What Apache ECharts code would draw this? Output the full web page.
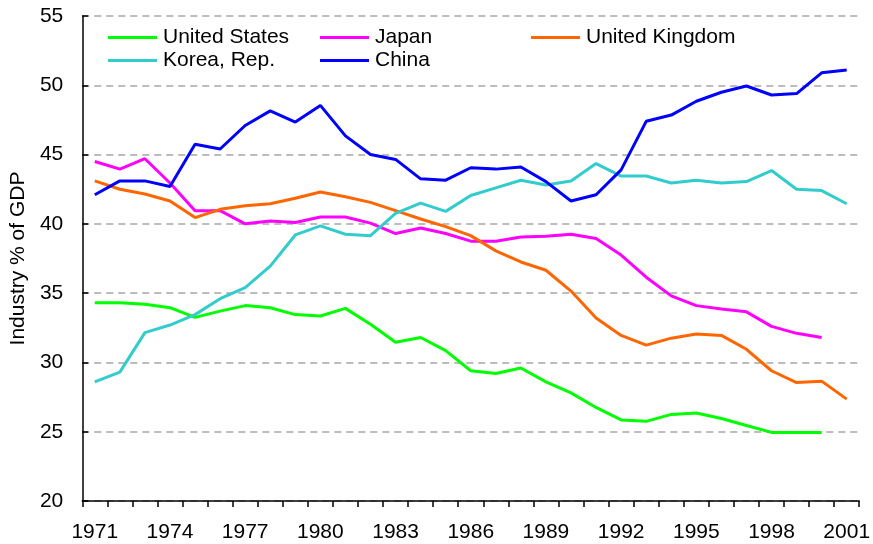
<!DOCTYPE html>
<html>
<head>
<meta charset="utf-8">
<script src="https://cdn.jsdelivr.net/npm/echarts@6/dist/echarts.min.js"></script>
<style>
  html, body { margin: 0; padding: 0; background: #fff; }
  #chart { width: 873px; height: 544px; }
</style>
</head>
<body>
<div id="chart"></div>
<script>
// years on the category axis
var years = [];
for (var y = 1971; y <= 2001; y++) years.push(String(y));

// industry share of GDP (%)
var usData = [34.3, 34.3, 34.2, 33.95, 33.25, 33.7, 34.1, 33.95, 33.45, 33.35, 33.9, 32.75, 31.45,
  31.8, 30.85, 29.4, 29.2, 29.6, 28.6, 27.8, 26.75, 25.85, 25.75, 26.25, 26.35, 25.95, 25.45,
  24.95, 24.95, 24.95, null];
var japanData = [44.5, 43.95, 44.7, 42.95, 40.95, 40.95, 40.0, 40.2, 40.1, 40.5, 40.5, 40.05, 39.3,
  39.7, 39.3, 38.75, 38.75, 39.05, 39.1, 39.25, 38.95, 37.75, 36.15, 34.8, 34.1, 33.85, 33.65,
  32.6, 32.1, 31.8, null];
var ukData = [43.1, 42.5, 42.15, 41.65, 40.45, 41.05, 41.3, 41.45, 41.85, 42.3, 41.95, 41.55, 40.95,
  40.35, 39.8, 39.15, 38.05, 37.25, 36.65, 35.15, 33.2, 31.95, 31.25, 31.75, 32.05, 31.95, 30.95,
  29.4, 28.55, 28.65, 27.35];
var koreaData = [28.6, 29.3, 32.15, 32.7, 33.45, 34.6, 35.4, 36.95, 39.2, 39.85, 39.25, 39.15, 40.75,
  41.5, 40.9, 42.05, 42.6, 43.15, 42.8, 43.1, 44.35, 43.45, 43.45, 42.95, 43.15, 42.95, 43.05,
  43.85, 42.5, 42.4, 41.45];
var chinaData = [42.1, 43.1, 43.1, 42.7, 45.75, 45.4, 47.1, 48.15, 47.35, 48.55, 46.35, 45.0, 44.65,
  43.25, 43.15, 44.05, 43.95, 44.1, 43.05, 41.65, 42.1, 43.9, 47.4, 47.85, 48.85, 49.5, 49.95,
  49.3, 49.4, 50.9, 51.1];

var names = ['United States', 'Japan', 'United Kingdom', 'Korea, Rep.', 'China'];
var colors = ['#00ff00', '#ff00ff', '#ff6600', '#33cccc', '#0000ff'];
var datasets = [usData, japanData, ukData, koreaData, chinaData];

var font = 'Liberation Sans, Arial, sans-serif';

var chart = echarts.init(document.getElementById('chart'));

var series = names.map(function(name, i) {
  return {
    name: name,
    type: 'line',
    data: datasets[i],
    showSymbol: false,
    symbol: 'none',
    animation: false,
    lineStyle: { width: 3, color: colors[i] },
    itemStyle: { color: colors[i] }
  };
});

function legendBox(data, left) {
  return {
    data: data,
    orient: 'vertical',
    left: left,
    top: 27,
    padding: 0,
    icon: 'rect',
    itemWidth: 49,
    itemHeight: 3,
    itemGap: 2,
    textStyle: { fontFamily: font, fontSize: 21, color: '#000', padding: [0, 0, 0, 1] }
  };
}

var option = {
  backgroundColor: '#fff',
  color: colors,
  legend: [
    legendBox(['United States', 'Korea, Rep.'], 108),
    legendBox(['Japan', 'China'], 320),
    legendBox(['United Kingdom'], 531)
  ],
  grid: { left: 82, right: 10, top: 16, bottom: 43 },
  xAxis: {
    type: 'category',
    data: years,
    boundaryGap: true,
    axisLine: { lineStyle: { color: '#000', width: 1.5 } },
    axisTick: { show: true, interval: 0, length: 6, lineStyle: { color: '#000', width: 1.5 } },
    axisLabel: { interval: 2, margin: 21, fontFamily: font, fontSize: 21, color: '#000' },
    splitLine: { show: false }
  },
  yAxis: {
    type: 'value',
    min: 20,
    max: 55,
    interval: 5,
    name: 'Industry % of GDP',
    nameLocation: 'middle',
    nameGap: 48,
    nameTextStyle: { fontFamily: font, fontSize: 21, color: '#000' },
    axisLine: { show: true, lineStyle: { color: '#000', width: 1.5 } },
    axisTick: { show: true, inside: true, length: 6, lineStyle: { color: '#000', width: 1.5 } },
    axisLabel: { margin: 19, fontFamily: font, fontSize: 21, color: '#000' },
    splitLine: { show: true, lineStyle: { color: '#a6a6a6', type: [7, 5], width: 1.5 } }
  },
  series: series
};

chart.setOption(option);
</script>
</body>
</html>
